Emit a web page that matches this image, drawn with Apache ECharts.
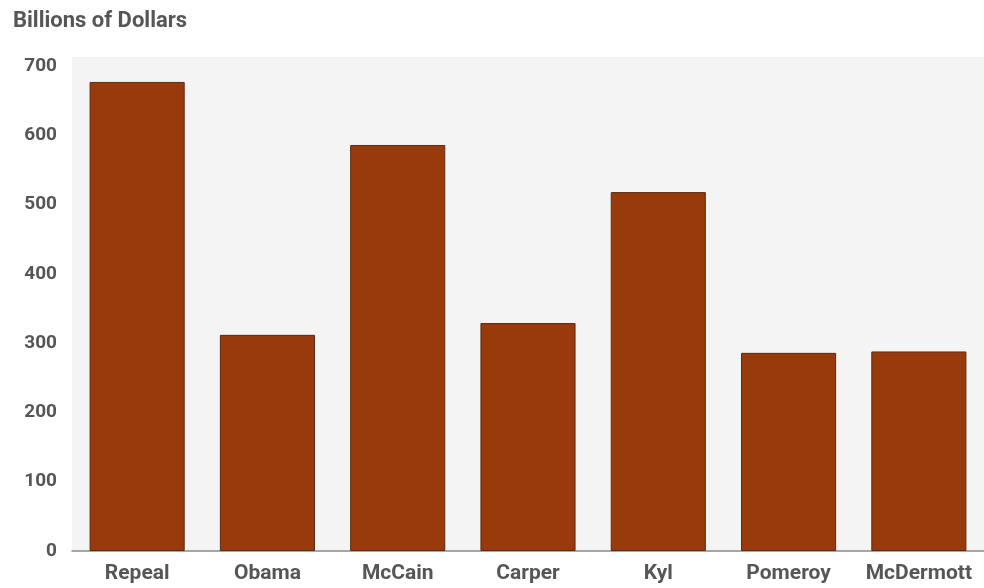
<!DOCTYPE html>
<html>
<head>
<meta charset="utf-8">
<script src="https://cdn.jsdelivr.net/npm/echarts@6/dist/echarts.min.js"></script>
<style>
  html, body { margin: 0; padding: 0; background: #ffffff; }
  #chart { width: 984px; height: 588px; }
</style>
</head>
<body>
<div id="chart"></div>
<script>
// Cost estimates by plan, billions of dollars
const categories = ['Repeal', 'Obama', 'McCain', 'Carper', 'Kyl', 'Pomeroy', 'McDermott'];
const values = [677, 312, 586, 329, 518, 286, 288];
const yTicks = [0, 100, 200, 300, 400, 500, 600, 700];

const FONT = 'Roboto, "Liberation Sans", sans-serif';
const TEXT = '#565656';

const chart = echarts.init(document.getElementById('chart'));
chart.setOption({
  animation: false,
  backgroundColor: '#ffffff',
  title: {
    text: 'Billions of Dollars',
    left: 8,
    top: 5,
    textStyle: { fontFamily: FONT, fontWeight: 'bold', fontSize: 22, color: TEXT }
  },
  grid: {
    left: 72, right: 0, top: 57, bottom: 37,
    show: true, backgroundColor: '#f4f4f4', borderWidth: 0
  },
  xAxis: {
    type: 'category',
    data: categories,
    axisLine: { lineStyle: { color: '#8a8a8a', width: 1.5 } },
    axisTick: { show: false },
    axisLabel: {
      interval: 0,
      margin: 12,
      fontFamily: FONT, fontWeight: 'bold', fontSize: 21, color: TEXT
    }
  },
  yAxis: {
    type: 'value',
    min: yTicks[0],
    max: 713,
    interval: 100,
    axisLine: { show: false },
    axisTick: { show: false },
    splitLine: { show: false },
    axisLabel: {
      margin: 15,
      showMaxLabel: false,
      fontFamily: FONT, fontWeight: 'bold', fontSize: 19, color: TEXT,
      formatter: v => (yTicks.includes(v) ? String(v) : '')
    }
  },
  series: [{
    type: 'bar',
    data: values,
    barWidth: '73%',
    itemStyle: { color: '#983a0c', borderColor: '#5a2a14', borderWidth: 1 }
  }]
});
</script>
</body>
</html>
